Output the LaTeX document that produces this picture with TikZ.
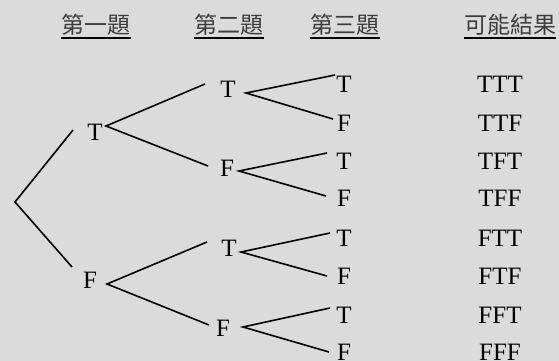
\documentclass[tikz,border=0pt]{standalone}
\usepackage{fontspec}
\setmainfont{Liberation Serif}
\newfontfamily\cjk{Noto Sans CJK TC}
\definecolor{bgc}{RGB}{219,219,219}
\definecolor{hdc}{RGB}{60,60,60}
\begin{document}
\begin{tikzpicture}[x=1pt,y=-1pt,
  lbl/.style={inner sep=0pt,font=\fontsize{25}{25}\selectfont},
  hdr/.style={inner sep=0pt,font=\cjk\fontsize{23}{23}\selectfont,text=hdc},
  uline/.style={line width=1.8pt,black},
  br/.style={line width=1.6pt,black}]
\fill[bgc] (0,0) rectangle (559,361);
\useasboundingbox (0,0) rectangle (559,361);
% headers
\node[hdr] (h1) at (96,25) {第一題};
\node[hdr] (h2) at (229,25) {第二題};
\node[hdr] (h3) at (345,25) {第三題};
\node[hdr] (h4) at (510,25) {可能結果};
\foreach \h in {h1,h2,h3,h4}{
  \draw[uline] (\h.south west |- 0,38) -- (\h.south east |- 0,38);
}
% level 1
\node[lbl] (a) at (95,132) {T};
\node[lbl] (b) at (90,280) {F};
% level 2
\node[lbl] (aa) at (228,89) {T};
\node[lbl] (ab) at (227,168) {F};
\node[lbl] (ba) at (229,248) {T};
\node[lbl] (bb) at (223,328) {F};
% level 3
\node[lbl] (aaa) at (344,84) {T};
\node[lbl] (aab) at (344,123) {F};
\node[lbl] (aba) at (344,161) {T};
\node[lbl] (abb) at (344,198) {F};
\node[lbl] (baa) at (344,238) {T};
\node[lbl] (bab) at (344,276) {F};
\node[lbl] (bba) at (344,315) {T};
\node[lbl] (bbb) at (344,352) {F};
% results
\node[lbl] (r1) at (500,84) {TTT};
\node[lbl] (r2) at (500,123) {TTF};
\node[lbl] (r3) at (500,161) {TFT};
\node[lbl] (r4) at (500,198) {TFF};
\node[lbl] (r5) at (500,238) {FTT};
\node[lbl] (r6) at (500,276) {FTF};
\node[lbl] (r7) at (500,315) {FFT};
\node[lbl] (r8) at (500,352) {FFF};
% branch points
\coordinate (root) at (15,202);
\coordinate (rootT) at (73,130);
\coordinate (rootF) at (72,267);
\coordinate (va) at (106,126);
\coordinate (va1) at (205,84);
\coordinate (va2) at (208,166);
\coordinate (vb) at (107,284);
\coordinate (vb1) at (207,242);
\coordinate (vb2) at (209,325);
\coordinate (vaa) at (246,93);
\coordinate (vaa1) at (335,75);
\coordinate (vaa2) at (333,119);
\coordinate (vab) at (239,171);
\coordinate (vab1) at (327,153);
\coordinate (vab2) at (326,196);
\coordinate (vba) at (241,252);
\coordinate (vba1) at (330,233);
\coordinate (vba2) at (327,276);
\coordinate (vbb) at (243,327);
\coordinate (vbb1) at (330,308);
\coordinate (vbb2) at (329,352);
\draw[br] (rootT) -- (root) -- (rootF);
\draw[br] (va1) -- (va) -- (va2);
\draw[br] (vb1) -- (vb) -- (vb2);
\draw[br] (vaa1) -- (vaa) -- (vaa2);
\draw[br] (vab1) -- (vab) -- (vab2);
\draw[br] (vba1) -- (vba) -- (vba2);
\draw[br] (vbb1) -- (vbb) -- (vbb2);
\end{tikzpicture}
\end{document}
